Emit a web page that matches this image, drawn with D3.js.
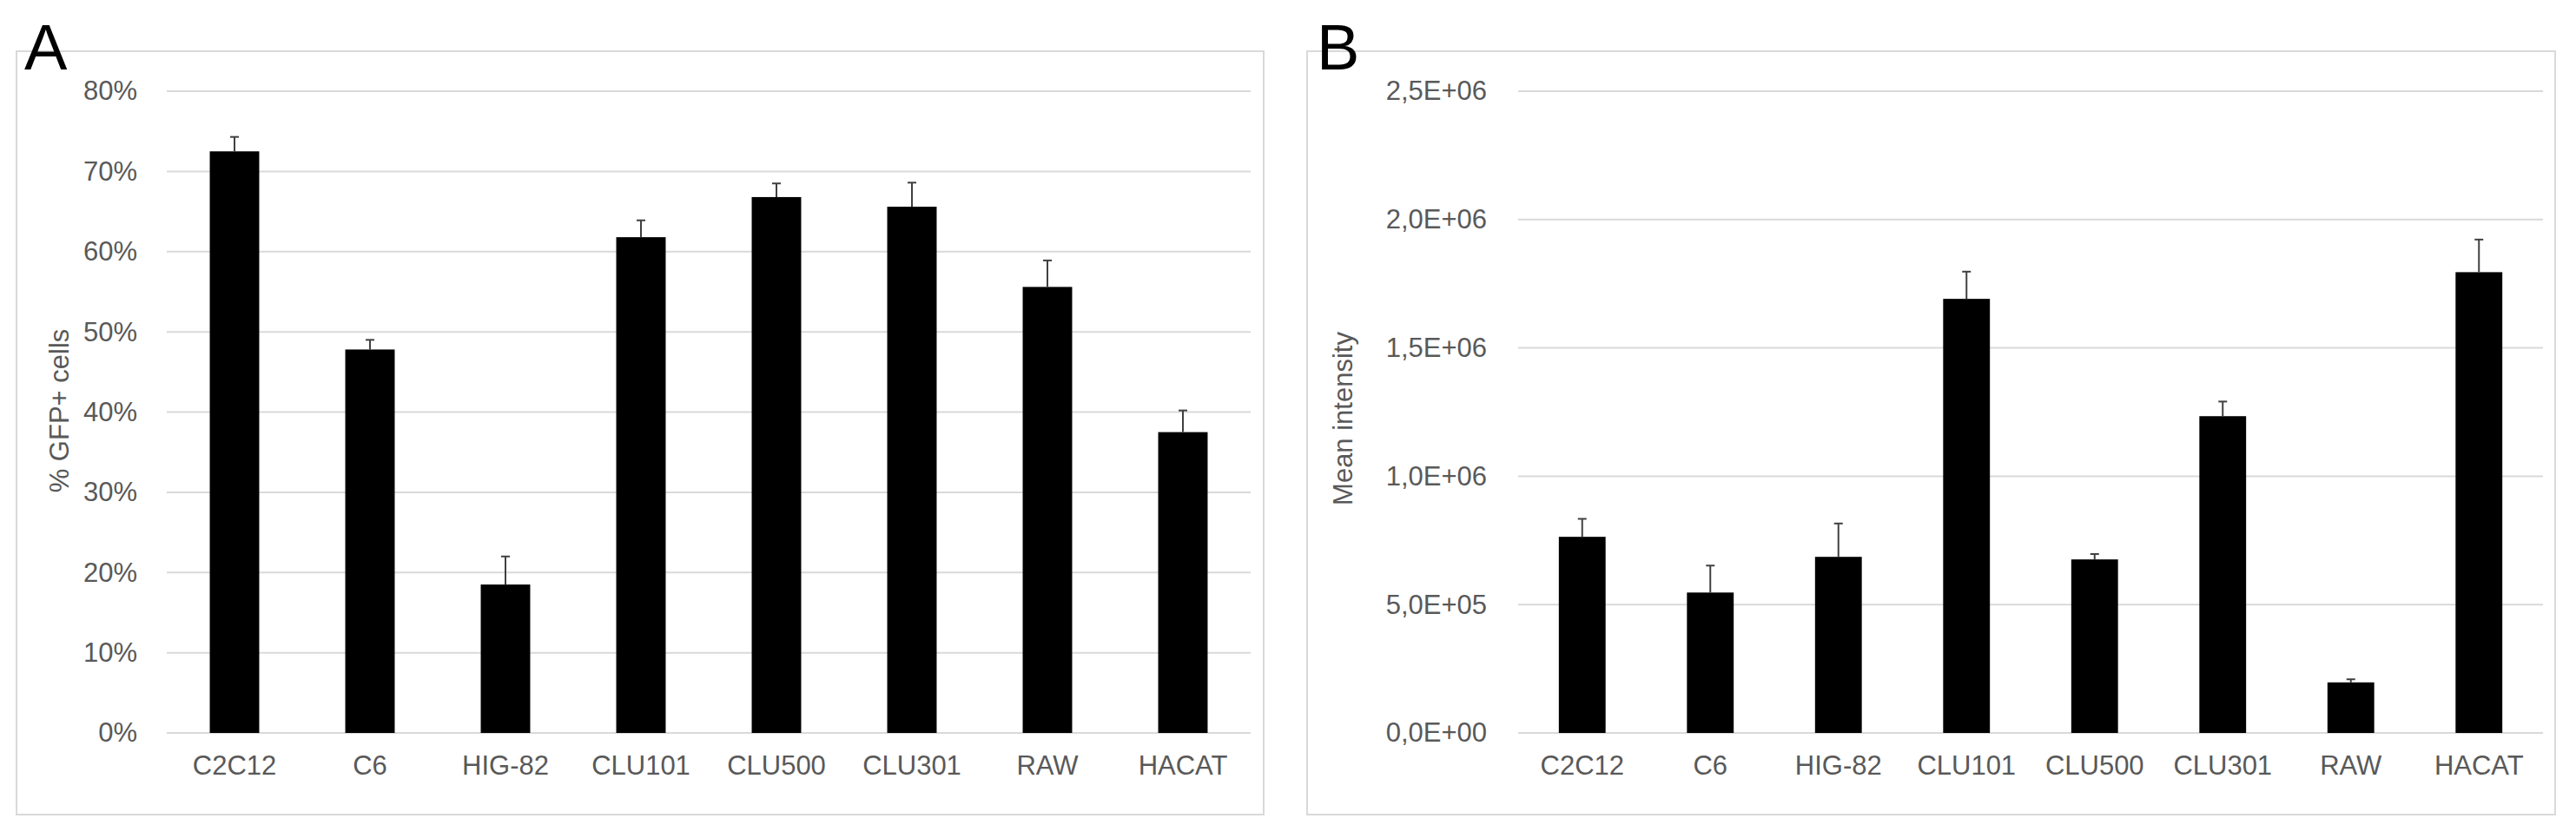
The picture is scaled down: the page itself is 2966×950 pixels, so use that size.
<!DOCTYPE html>
<html><head><meta charset="utf-8">
<script src="https://cdn.jsdelivr.net/npm/d3@7"></script>
<style>
html,body{margin:0;padding:0;background:#fff;}
text{font-family:"Liberation Sans",Arial,sans-serif;}
</style></head>
<body>
<svg id="c" width="2966" height="950"></svg>
<script>
const categories = ["C2C12","C6","HIG-82","CLU101","CLU500","CLU301","RAW","HACAT"];
// Panel A: % GFP+ cells (fraction)
const gfpValues = [0.725, 0.478, 0.185, 0.618, 0.668, 0.656, 0.556, 0.375];
const gfpErrors = [0.018, 0.012, 0.035, 0.021, 0.017, 0.030, 0.033, 0.027];
const gfpTicks = [0,0.1,0.2,0.3,0.4,0.5,0.6,0.7,0.8];
// Panel B: Mean intensity
const intValues = [764000, 547000, 686000, 1691000, 676000, 1234000, 197000, 1795000];
const intErrors = [70000, 105000, 130000, 106000, 21000, 57000, 12000, 127000];
const intTicks = [0,500000,1000000,1500000,2000000,2500000];

const svg = d3.select("#c");
const gray = "#595959", grid = "#d9d9d9";

function panel(cfg){
  const g = svg.append("g");
  // outer border
  g.append("rect").attr("x",cfg.box[0]).attr("y",cfg.box[1])
    .attr("width",cfg.box[2]-cfg.box[0]).attr("height",cfg.box[3]-cfg.box[1])
    .attr("fill","none").attr("stroke",grid).attr("stroke-width",2);
  // panel letter
  g.append("text").attr("x",cfg.letterX).attr("y",80).attr("font-size",74)
    .attr("fill","#000").text(cfg.letter);

  const x = d3.scaleBand().domain(categories).range([cfg.x0,cfg.x1])
    .paddingInner(0.635).paddingOuter(0.3175);
  const y = d3.scaleLinear().domain(cfg.domain).range([844,105]);

  // gridlines
  g.append("g").selectAll("line").data(cfg.ticks).join("line")
    .attr("x1",cfg.x0).attr("x2",cfg.x1)
    .attr("y1",d=>y(d)).attr("y2",d=>y(d))
    .attr("stroke",grid).attr("stroke-width",2);

  // y axis labels
  const ya = d3.axisLeft(y).tickValues(cfg.ticks).tickFormat(cfg.fmt).tickSize(0).tickPadding(0);
  const yg = g.append("g").attr("transform",`translate(${cfg.labelRight},0)`).call(ya);
  yg.select(".domain").remove();
  yg.selectAll("text").attr("font-size",31).attr("fill",gray)
    .attr("font-family",'"Liberation Sans",Arial,sans-serif');

  // x axis labels
  const xa = d3.axisBottom(x).tickSize(0).tickPadding(0);
  const xg = g.append("g").attr("transform","translate(0,870)").call(xa);
  xg.select(".domain").remove();
  xg.selectAll("text").attr("font-size",31).attr("fill",gray).attr("dy","0.71em")
    .attr("font-family",'"Liberation Sans",Arial,sans-serif');

  // bars
  g.append("g").selectAll("rect").data(cfg.values).join("rect")
    .attr("x",(d,i)=>x(categories[i])).attr("width",x.bandwidth())
    .attr("y",d=>y(d)).attr("height",d=>y(0)-y(d)).attr("fill","#000");

  // error bars (upper only)
  const eg = g.append("g").attr("stroke","#404040").attr("stroke-width",2);
  cfg.values.forEach((v,i)=>{
    const cx = x(categories[i]) + x.bandwidth()/2;
    const top = y(v + cfg.errors[i]);
    eg.append("line").attr("x1",cx).attr("x2",cx).attr("y1",y(v)).attr("y2",top);
    eg.append("line").attr("x1",cx-5).attr("x2",cx+5).attr("y1",top).attr("y2",top);
  });

  // y title
  g.append("text").attr("transform",`translate(${cfg.titleX},${cfg.titleY}) rotate(-90)`)
    .attr("text-anchor","middle").attr("font-size",cfg.titleSize).attr("fill",gray).text(cfg.title);
}

panel({box:[19,59,1455,938], letter:"A", letterX:28, x0:192, x1:1440,
  domain:[0,0.8], ticks:gfpTicks, values:gfpValues, errors:gfpErrors,
  fmt:d=>Math.round(d*100)+"%", labelRight:158,
  title:"% GFP+ cells", titleX:79, titleY:473, titleSize:31});

panel({box:[1505,59,2942,938], letter:"B", letterX:1516, x0:1748, x1:2928,
  domain:[0,2500000], ticks:intTicks, values:intValues, errors:intErrors,
  fmt:d=>{ if(d===0) return "0,0E+00"; const e=Math.floor(Math.log10(d)); const m=d/Math.pow(10,e);
    return m.toFixed(1).replace(".",",")+"E+"+String(e).padStart(2,"0"); },
  labelRight:1712,
  title:"Mean intensity", titleX:1557, titleY:482, titleSize:31});
</script>
</body></html>
